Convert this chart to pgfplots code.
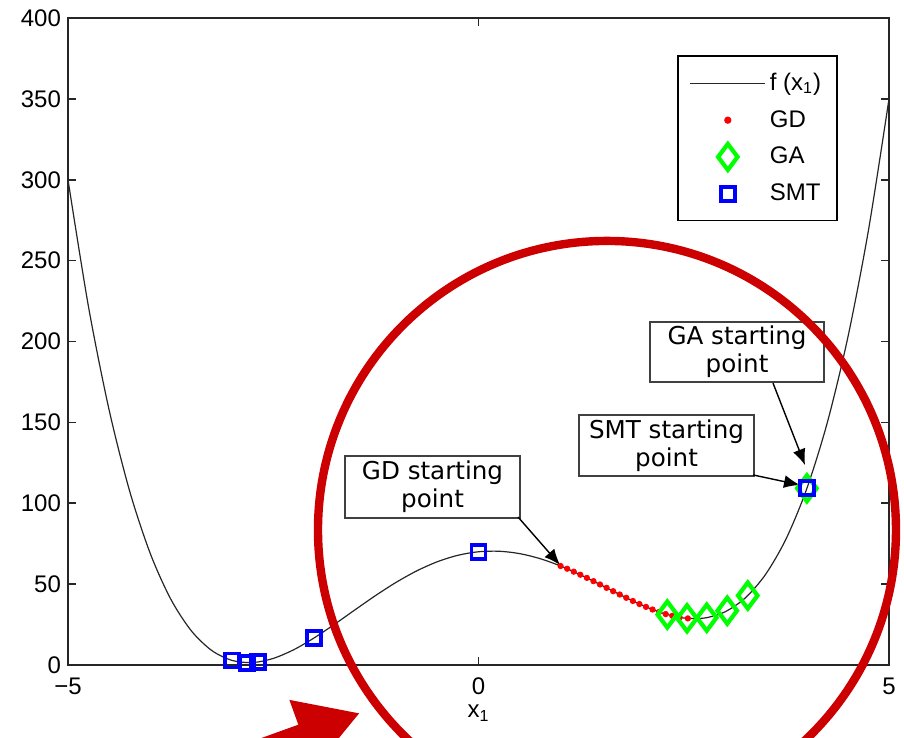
\documentclass[border=0pt]{standalone}
\usepackage{fontspec}
\setmainfont{Liberation Sans}
\newfontfamily\dv{DejaVu Sans}
\usepackage{pgfplots}
\pgfplotsset{compat=1.18}
\usetikzlibrary{arrows.meta}
\definecolor{circred}{RGB}{204,0,0}
\begin{document}
\begin{tikzpicture}
\begin{axis}[
  scale only axis,
  width=410.5pt, height=323.5pt,
  xmin=-5, xmax=5, ymin=0, ymax=400,
  clip=false,
  xtick={-5,0,5}, xticklabels={−5,0,5},
  ytick={0,50,...,400},
  /pgf/number format/assume math mode=true,
  tick align=inside,
  major tick length=4pt,
  axis line style={line width=1pt, black!85},
  tick style={line width=0.8pt, black!85},
  every tick label/.append style={font=\fontsize{12}{14}\selectfont},
  xticklabel style={yshift=-3pt},
  xlabel={x\textsubscript{1}},
  xlabel style={font=\fontsize{12}{14}\selectfont, yshift=2pt},
  legend cell align=left,
  legend image code/.code={\draw[mark repeat=2,mark phase=2,#1] plot coordinates {(0pt,0pt)(18.75pt,0pt)(37.5pt,0pt)};},
  legend style={at={(0.9379,0.9428)}, anchor=north east, draw=black, line width=0.9pt,
     font=\fontsize{12}{14}\selectfont, inner xsep=6pt, inner ysep=6.5pt, row sep=4.5pt},
]
\addplot[black!85, line width=0.6pt, smooth] coordinates {
(-5,300) (-4.75,221.39) (-4.5,157.86) (-4.25,107.67) (-4,69.2) (-3.75,40.87)
(-3.5,21.26) (-3.25,8.99) (-3,2.8) (-2.75,1.51) (-2.5,4.06) (-2.25,9.45)
(-2,16.8) (-1.75,25.30) (-1.5,34.26) (-1.25,43.06) (-1,51.2) (-0.75,58.24)
(-0.5,63.86) (-0.25,67.83) (0,70) (0.25,70.33) (0.5,68.86) (0.75,65.74)
(1,61.2) (1.25,55.56) (1.5,49.26) (1.75,42.80) (2,36.8) (2.25,31.95)
(2.5,29.06) (2.75,29.01) (3,32.8) (3.25,41.49) (3.5,56.26) (3.75,78.37)
(4,109.2) (4.25,150.17) (4.5,202.86) (4.75,268.89) (5,350)
};
\addlegendentry{f (x\textsubscript{1})}
\addplot[only marks, mark=*, mark size=1.35pt, red, mark options={fill=red, draw=red}] coordinates {
(1.00,61.2) (1.08,59.50) (1.16,57.70) (1.24,55.81) (1.32,53.85) (1.40,51.83)
(1.48,49.78) (1.56,47.71) (1.64,45.63) (1.72,43.57) (1.80,41.55) (1.88,39.58)
(1.96,37.70) (2.04,35.93) (2.12,34.28) (2.20,32.79) (2.28,31.49) (2.36,30.39)
(2.45,29.44) (2.55,28.80)
};
\addlegendentry{GD}
\addplot[only marks, mark=diamond, mark size=6.5pt, mark options={draw={rgb,1:red,0;green,1;blue,0}, line width=2.1pt}] coordinates {
(2.30,31.19) (2.54,28.84) (2.78,29.25) (3.03,33.56) (3.28,42.92) (4,109.2)
};
\addlegendentry{GA}
\addplot[only marks, mark=square, mark size=3.5pt, mark options={draw=blue, line width=1.9pt}] coordinates {
(-3.0,2.8) (-2.82,1.44) (-2.69,1.81) (-2.0,16.8) (0,70) (4,109.2)
};
\addlegendentry{SMT}

% annotation boxes
\node[draw=black!75, line width=0.7pt, fill=white, minimum width=87.5pt, minimum height=31pt,
      align=center, inner sep=1pt, font=\dv\fontsize{12.3}{14}\selectfont]
  at (axis cs:-0.560,110.0) {GD starting\\point};
\node[draw=black!75, line width=0.7pt, fill=white, minimum width=87pt, minimum height=30pt,
      align=center, inner sep=1pt, font=\dv\fontsize{12.3}{14}\selectfont]
  at (axis cs:3.149,193.5) {GA starting\\point};
\node[draw=black!75, line width=0.7pt, fill=white, minimum width=87.5pt, minimum height=30.5pt,
      align=center, inner sep=1pt, font=\dv\fontsize{12.3}{14}\selectfont]
  at (axis cs:2.290,135.7) {SMT starting\\point};
\draw[line width=0.7pt, -{Latex[length=8pt,width=6.5pt]}] (axis cs:0.481,91.5) -- (axis cs:0.993,61.8);
\draw[line width=0.7pt, -{Latex[length=8pt,width=6.5pt]}] (axis cs:3.587,174.3) -- (axis cs:3.977,123.6);
\draw[line width=0.7pt, -{Latex[length=8pt,width=6.5pt]}] (axis cs:3.343,117.5) -- (axis cs:3.916,111.3);

% red circle and arrow
\draw[circred, line width=4.2pt] (axis cs:1.565,83.5) circle [radius=144.5pt];
\draw[circred, line width=10pt, -{Triangle[length=31pt,width=34pt]}] (axis cs:-3.161,-61.2) -- (axis cs:-1.443,-29.7);

\coordinate (bbll) at (axis cs:-5.8283,-45.13);
\coordinate (bbur) at (axis cs:5.1827,411.13);
\end{axis}
\pgfresetboundingbox
\path[use as bounding box] (bbll) rectangle (bbur);
\end{tikzpicture}
\end{document}
